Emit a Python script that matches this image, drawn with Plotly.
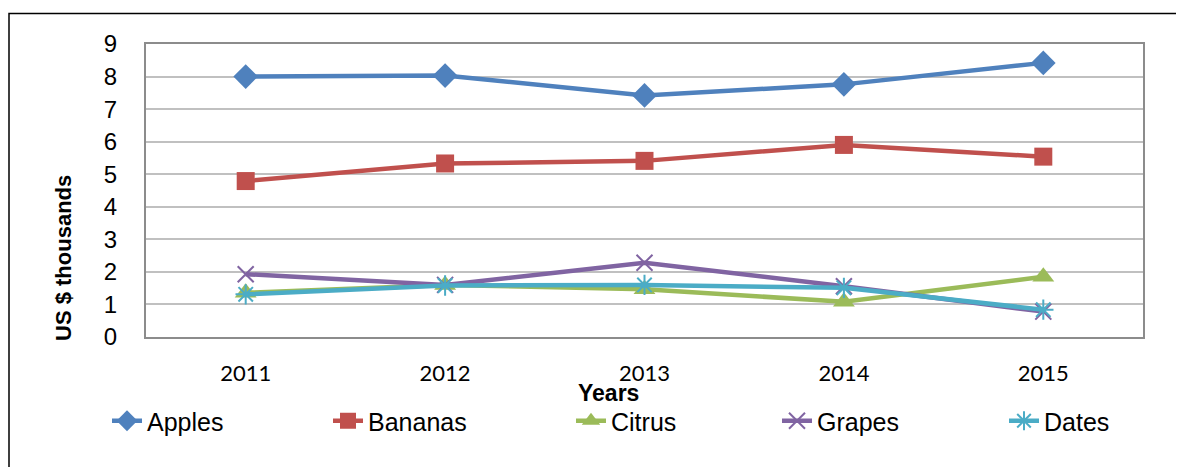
import plotly.graph_objects as go

years = ["2011", "2012", "2013", "2014", "2015"]
apples = [8.0, 8.03, 7.42, 7.76, 8.42]
bananas = [4.79, 5.33, 5.41, 5.9, 5.54]
citrus = [1.36, 1.6, 1.47, 1.08, 1.85]
grapes = [1.93, 1.6, 2.28, 1.56, 0.78]
dates = [1.31, 1.58, 1.6, 1.51, 0.84]

OFF = 8  # page body margin offset
W, H = 1184 - OFF, 467 - OFF
# target plot area in screenshot pixels
PX0, PX1, PY0, PY1 = 146, 1143, 44, 337
L = PX0 - OFF
T = PY0 - OFF
pw, ph = PX1 - PX0, PY1 - PY0
R = W - L - pw
B = H - T - ph

def px_x(px):
    return (px - PX0) / pw

def px_y(py):
    return (PY1 - py) / ph

series = [
    ("Apples", apples, "#4F81BD", "diamond", 19, 89),
    ("Bananas", bananas, "#C0504D", "square", 18, 310),
    ("Citrus", citrus, "#9BBB59", "triangle-up", 19, 553),
    ("Grapes", grapes, "#8064A2", "x-thin-open", 16, 759),
    ("Dates", dates, "#4BACC6", "asterisk-open", 17, 986),
]

fig = go.Figure()
layout_legends = {}
for i, (name, vals, col, sym, sz, lx) in enumerate(series):
    lname = "legend" if i == 0 else f"legend{i+1}"
    open_sym = sym.endswith("open")
    fig.add_trace(go.Scatter(
        x=years, y=vals, name=name, mode="lines+markers",
        line=dict(color=col, width=4.5),
        marker=dict(symbol=sym, size=sz, color=col,
                    line=dict(color=col, width=2 if open_sym else 0)),
        legend=lname,
    ))
    layout_legends[lname] = dict(
        x=px_x(lx + 18), y=px_y(421), xanchor="left", yanchor="middle",
        orientation="h", bgcolor="rgba(0,0,0,0)",
        font=dict(family="Liberation Sans, Arial", size=25, color="#000000"),
        itemwidth=30,
    )

fig.update_layout(
    width=W, height=H,
    margin=dict(l=L, r=R, t=T, b=B),
    paper_bgcolor="white", plot_bgcolor="white",
    showlegend=True,
    **layout_legends,
)

fig.update_xaxes(
    type="category", range=[-0.5, 4.5],
    showgrid=False, showline=True, mirror=True,
    linecolor="#8c8c8c", linewidth=2,
    ticks="", ticklabelstandoff=16,
    tickfont=dict(family="Lato, Liberation Sans", size=22, color="#000000"),
)
fig.update_yaxes(
    range=[0, 9], dtick=1, tick0=0,
    showgrid=True, gridcolor="#c0c0c0", gridwidth=1.5,
    showline=True, mirror=True, linecolor="#8c8c8c", linewidth=2,
    zeroline=False, ticks="", ticklabelstandoff=22,
    tickfont=dict(family="Liberation Sans, Arial", size=24, color="#000000"),
)

fig.add_annotation(
    text="<b>US $ thousands</b>", textangle=-90,
    xref="paper", yref="paper", x=px_x(63), y=px_y(258),
    xanchor="center", yanchor="middle", showarrow=False,
    font=dict(family="Liberation Sans, Arial", size=22, color="#000000"),
)
fig.add_annotation(
    text="<b>Years</b>",
    xref="paper", yref="paper", x=px_x(608), y=px_y(393),
    xanchor="center", yanchor="middle", showarrow=False,
    font=dict(family="Liberation Sans, Arial", size=23, color="#000000"),
)

fig.add_shape(
    type="rect", xref="paper", yref="paper",
    x0=px_x(OFF + 1), x1=px_x(1200), y0=px_y(490), y1=px_y(13.5),
    line=dict(color="#000000", width=1.5), fillcolor="rgba(0,0,0,0)",
    layer="above",
)

fig.write_html("out.html")
